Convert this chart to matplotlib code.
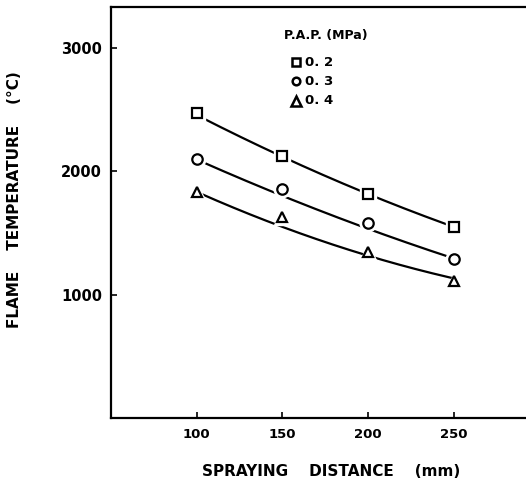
import numpy as np
import matplotlib
matplotlib.use("Agg")
import matplotlib.pyplot as plt
from matplotlib.lines import Line2D

# ---- data ----
distance = [100, 150, 200, 250]
pressures = ["0. 2", "0. 3", "0. 4"]
temp_p02 = [2475, 2127, 1814, 1551]
temp_p03 = [2100, 1857, 1584, 1292]
temp_p04 = [1833, 1628, 1349, 1111]

# hand-drawn trend curves
curve_x = [100, 125, 150, 175, 200, 225, 250]
curve_p02 = [2460, 2280, 2115, 1965, 1815, 1685, 1545]
curve_p03 = [2100, 1940, 1800, 1665, 1535, 1415, 1290]
curve_p04 = [1840, 1680, 1540, 1430, 1320, 1225, 1125]

x_ticks = [100, 150, 200, 250]
y_ticks = [1000, 2000, 3000]

plt.rcParams['font.family'] = ['DejaVu Sans']

W, H = 526, 483
fig = plt.figure(figsize=(W / 100, H / 100), dpi=100)
ax = fig.add_axes([111 / W, 65 / H, 1 - 111 / W, 411 / H])

markers = ["s", "o", "^"]
series = [temp_p02, temp_p03, temp_p04]
curves = [curve_p02, curve_p03, curve_p04]

for vals, cvals, m in zip(series, curves, markers):
    coef = np.polyfit(curve_x, cvals, 2)
    xs = np.linspace(curve_x[0] + 2, curve_x[-1], 200)
    ax.plot(xs, np.polyval(coef, xs), color="black", lw=1.6, zorder=2,
            solid_capstyle="round")
    ax.plot(distance, vals, linestyle="none", marker=m, ms=12,
            mfc="white", mec="white", zorder=3)
    ax.plot(distance, vals, linestyle="none", marker=m, ms=7.5,
            mfc="white", mec="black", mew=1.6, zorder=4)

ax.set_xlim(50, 292)
ax.set_ylim(0, 3333)
ax.set_xticks(x_ticks)
ax.set_yticks(y_ticks)
ax.set_xticklabels([str(v) for v in x_ticks], fontsize=9.5, fontweight="bold")
ax.set_yticklabels([str(v) for v in y_ticks], fontsize=10.5, fontweight="bold")
ax.tick_params(direction="in", length=4, width=1.2)
ax.tick_params(axis="y", pad=6.5)
ax.tick_params(axis="x", pad=7)

ax.spines["right"].set_visible(False)
for s in ["left", "top", "bottom"]:
    ax.spines[s].set_linewidth(1.6)

ax.set_xlabel("SPRAYING    DISTANCE    (mm)", fontsize=11, fontweight="bold")
ax.xaxis.set_label_coords((331 - 111) / 415, (418 - 471) / 411)
ax.xaxis.label.set_va("center")
ax.set_ylabel("FLAME    TEMPERATURE    (°C)", fontsize=11, fontweight="bold")
ax.yaxis.set_label_coords((15 - 111) / 415, (418 - 200) / 411)
ax.yaxis.label.set_va("center")
ax.yaxis.label.set_ha("center")

# legend block (title + marker entries), drawn by hand as in the original
fig.text(326 / W, 1 - 35 / H, "P.A.P. (MPa)", ha="center", va="center",
         fontsize=9, fontweight="bold")
for i, (m, lab) in enumerate(zip(markers, pressures)):
    yy = 1 - (62 + 19.3 * i) / H
    fig.add_artist(Line2D([296 / W], [yy], linestyle="none", marker=m,
                          ms=5.5 if m != "^" else 6.5, mfc="white",
                          mec="black", mew=1.8, transform=fig.transFigure))
    fig.text(305 / W, yy, lab, ha="left", va="center", fontsize=9.5,
             fontweight="bold")

fig.savefig("out.png", dpi=100)
